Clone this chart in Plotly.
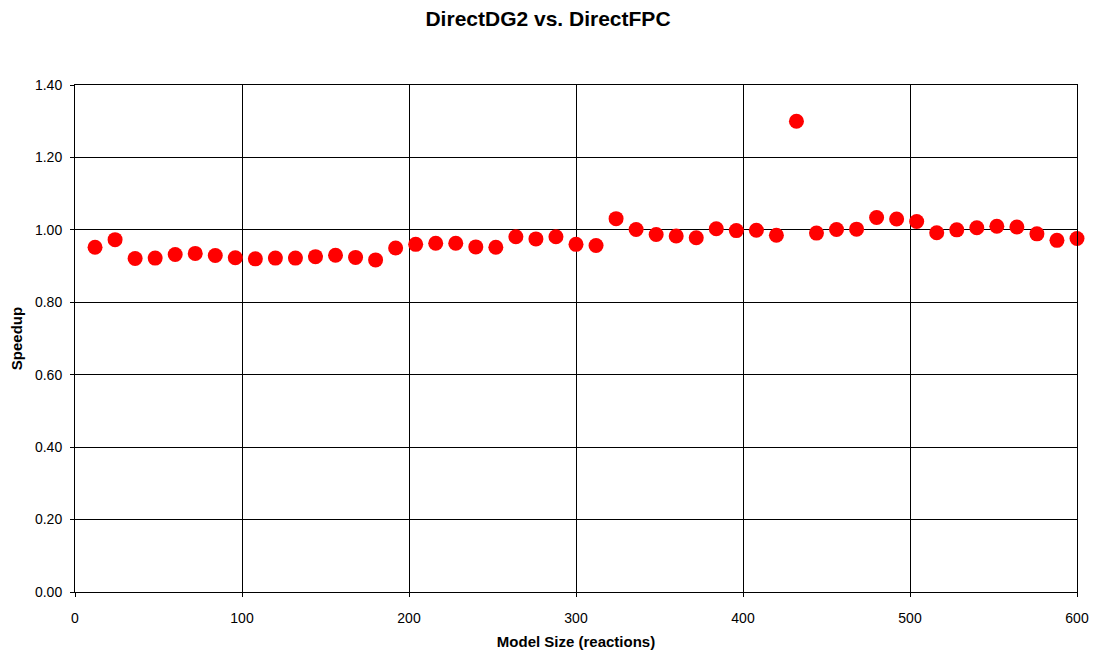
import plotly.graph_objects as go

model_size = [12, 24, 36, 48, 60, 72, 84, 96, 108, 120, 132, 144, 156, 168, 180,
              192, 204, 216, 228, 240, 252, 264, 276, 288, 300, 312, 324, 336, 348,
              360, 372, 384, 396, 408, 420, 432, 444, 456, 468, 480, 492, 504, 516,
              528, 540, 552, 564, 576, 588, 600]
speedup = [0.952, 0.973, 0.921, 0.922, 0.932, 0.935, 0.929, 0.923, 0.920, 0.922,
           0.922, 0.926, 0.930, 0.924, 0.917, 0.950, 0.960, 0.963, 0.963, 0.953,
           0.952, 0.981, 0.975, 0.981, 0.960, 0.957, 1.031, 1.001, 0.987, 0.983,
           0.978, 1.003, 0.998, 0.999, 0.985, 1.300, 0.991, 1.001, 1.002, 1.034,
           1.030, 1.023, 0.992, 1.000, 1.006, 1.010, 1.008, 0.989, 0.971, 0.976]

font = "Liberation Sans, Arial, sans-serif"

# page body has an 8px margin, so the figure is sized to fill the rest
W, H = 1091, 649

fig = go.Figure(go.Scatter(
    x=model_size, y=speedup, mode="markers",
    marker=dict(color="#ff0000", size=15, line=dict(width=0)),
    cliponaxis=False,
))

fig.update_layout(
    width=W, height=H,
    margin=dict(l=67, r=22, t=77, b=65, autoexpand=False),
    paper_bgcolor="white", plot_bgcolor="white",
    showlegend=False,
    font=dict(family=font, size=14, color="black"),
    title=dict(text="<b>DirectDG2 vs. DirectFPC</b>", x=540 / W, xanchor="center",
               y=1 - 11 / H, yanchor="middle", font=dict(size=21, family=font)),
)
fig.update_xaxes(
    range=[0, 600], tick0=0, dtick=100, automargin=False,
    showgrid=True, gridcolor="black", gridwidth=1,
    showline=True, linecolor="black", linewidth=1, mirror=True,
    ticks="outside", ticklen=4, tickcolor="black", ticklabelstandoff=9,
    zeroline=False,
    title=dict(text="<b>Model Size (reactions)</b>", font=dict(size=15), standoff=11),
)
fig.update_yaxes(
    range=[0, 1.4], tick0=0, dtick=0.2, tickformat=".2f", automargin=False,
    showgrid=True, gridcolor="black", gridwidth=1,
    showline=True, linecolor="black", linewidth=1, mirror=True,
    ticks="outside", ticklen=4, tickcolor="black", ticklabelstandoff=5,
    zeroline=False,
    title=dict(text="<b>Speedup</b>", font=dict(size=15), standoff=13),
)

fig.write_html("out.html")
